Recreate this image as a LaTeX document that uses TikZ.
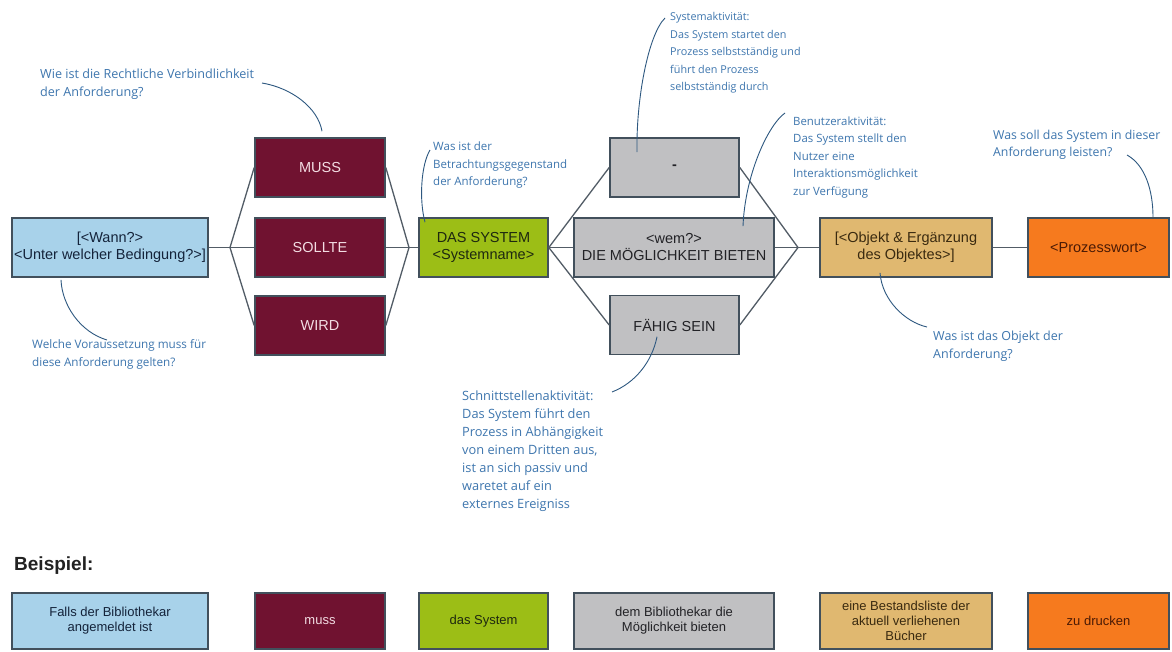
\documentclass[tikz,border=0pt]{standalone}
\usepackage{fontspec}
\setmainfont{Liberation Sans}
\newfontfamily\handfont{Open Sans}
\usetikzlibrary{calc}

\definecolor{boxline}{RGB}{66,80,92}
\definecolor{wirecol}{RGB}{82,92,102}
\definecolor{pincol}{RGB}{46,88,128}
\definecolor{notecol}{RGB}{62,118,174}
\definecolor{fillblue}{RGB}{168,210,234}
\definecolor{fillmaroon}{RGB}{112,18,48}
\definecolor{fillgreen}{RGB}{156,190,22}
\definecolor{fillgray}{RGB}{192,192,194}
\definecolor{filltan}{RGB}{224,184,112}
\definecolor{fillorange}{RGB}{246,122,30}

\begin{document}
\begin{tikzpicture}[x=1pt,y=-1pt,
  box/.style={draw=boxline, line width=1.6pt, minimum height=59pt, inner sep=0pt,
    align=center, font=\fontsize{14.5}{17}\selectfont},
  exbox/.style={box, minimum height=56pt, font=\fontsize{13}{15}\selectfont},
  cblue/.style={fill=fillblue, text={rgb,255:red,20;green,35;blue,58}},
  cmaroon/.style={fill=fillmaroon, text={rgb,255:red,243;green,221;blue,227}},
  cgreen/.style={fill=fillgreen, text={rgb,255:red,30;green,40;blue,16}},
  cgray/.style={fill=fillgray, text={rgb,255:red,34;green,34;blue,38}},
  ctan/.style={fill=filltan, text={rgb,255:red,58;green,42;blue,16}},
  corange/.style={fill=fillorange, text={rgb,255:red,74;green,26;blue,5}},
  wire/.style={draw=wirecol, line width=1.3pt},
  pin/.style={draw=pincol, line width=0.9pt},
  note/.style={font=\handfont\fontsize{#1}{17.5}\selectfont, text=notecol,
    align=left, inner sep=0pt, anchor=west}
]
\useasboundingbox[fill=white] (0,0) rectangle (1172,651);

% sentence template
\node[box,cblue,minimum width=196pt] (wann) at (110,247.5) {[<Wann?>\\<Unter welcher Bedingung?>]};
\node[box,cmaroon,minimum width=130pt] (muss) at (320,167.5) {MUSS};
\node[box,cmaroon,minimum width=130pt] (sollte) at (320,247.5) {SOLLTE};
\node[box,cmaroon,minimum width=130pt] (wird) at (320,325.5) {WIRD};
\node[box,cgreen,minimum width=129pt] (sys) at (483.5,247.5) {DAS SYSTEM\\<Systemname>};
\node[box,cgray,minimum width=129pt] (dash) at (674.5,167.5) {\bfseries -};
\node[box,cgray,minimum width=200pt] (mid) at (674,247.5) {<wem?>\\DIE MÖGLICHKEIT BIETEN};
\node[box,cgray,minimum width=129pt] (faehig) at (674.5,325) {FÄHIG SEIN};
\node[box,ctan,minimum width=172pt] (obj) at (906,247.5) {[<Objekt \& Ergänzung\\des Objektes>]};
\node[box,corange,minimum width=141pt] (proz) at (1098.5,247.5) {<Prozesswort>};

% branch points
\coordinate (f1) at (230,247.5);
\coordinate (f2) at (409,247.5);
\coordinate (f4) at (798,247.5);

\draw[wire] (wann.east) -- (f1);
\draw[wire] (f1) -- (muss.west);
\draw[wire] (f1) -- (sollte.west);
\draw[wire] (f1) -- (wird.west);
\draw[wire] (muss.east) -- (f2);
\draw[wire] (sollte.east) -- (f2);
\draw[wire] (wird.east) -- (f2);
\draw[wire] (f2) -- (sys.west);
\draw[wire] (sys.east) -- (dash.west);
\draw[wire] (sys.east) -- (mid.west);
\draw[wire] (sys.east) -- (faehig.west);
\draw[wire] (dash.east) -- (f4);
\draw[wire] (mid.east) -- (f4);
\draw[wire] (faehig.east) -- (f4);
\draw[wire] (f4) -- (obj.west);
\draw[wire] (obj.east) -- (proz.west);

% handwritten remarks
\node[note=12.6] (nMuss) at (40,84) {Wie ist die Rechtliche Verbindlichkeit\\der Anforderung?};
\node[note=11.7] (nWann) at (32,354.5) {Welche Voraussetzung muss für\\diese Anforderung gelten?};
\node[note=11.5] (nSys) at (433,165.5) {Was ist der\\Betrachtungsgegenstand\\der Anforderung?};
\node[note=10.8] (nDash) at (670,53) {Systemaktivität:\\Das System startet den\\Prozess selbstständig und\\führt den Prozess\\selbstständig durch};
\node[note=11.4] (nMid) at (793,157.5) {Benutzeraktivität:\\Das System stellt den\\Nutzer eine\\Interaktionsmöglichkeit\\zur Verfügung};
\node[note=12.8, font=\handfont\fontsize{12.8}{18}\selectfont] (nFaehig) at (462,451) {Schnittstellenaktivität:\\Das System führt den\\Prozess in Abhängigkeit\\von einem Dritten aus,\\ist an sich passiv und\\waretet auf ein\\externes Ereigniss};
\node[note=12.5] (nObj) at (933,346) {Was ist das Objekt der\\Anforderung?};
\node[note=12.3] (nProz) at (993,145) {Was soll das System in dieser\\Anforderung leisten?};

% remark pins
\coordinate (pMuss) at (262,83);
\coordinate (pWann) at (107,340);
\coordinate (pSys) at (430,150);
\coordinate (pDash) at (665,18);
\coordinate (pMid) at (785,113);
\coordinate (pFaehig) at (612,392);
\coordinate (pObj) at (927,327);
\coordinate (pProz) at (1127,155);

\draw[pin] (pMuss) .. controls (292,88) and (318,108) .. ($(muss.north)+(2,-6)$);
\draw[pin] ($(wann.south)+(-49,2)$) .. controls (62,305) and (80,332) .. (pWann);
\draw[pin] (pSys) .. controls (421,165) and (419,200) .. ($(sys.north)+(-58.5,5)$);
\draw[pin] (pDash) .. controls (648,35) and (636,100) .. ($(dash.north)+(-37.5,15)$);
\draw[pin] (pMid) .. controls (768,125) and (745,175) .. ($(mid.north)+(69,9)$);
\draw[pin] (pFaehig) .. controls (635,383) and (652,362) .. ($(faehig.north)+(-17.5,42)$);
\draw[pin] ($(obj.south)+(-26,-5)$) .. controls (882,300) and (905,322) .. (pObj);
\draw[pin] (pProz) .. controls (1145,165) and (1153,190) .. ($(proz.north)+(54.5,0)$);

% worked example
\node[anchor=west, inner sep=0pt, font=\bfseries\fontsize{19}{22}\selectfont,
  text={rgb,255:red,34;green,34;blue,34}] (beispiel) at (14,566) {Beispiel:};
\node[exbox,cblue,minimum width=196pt] (e1) at (110,621) {Falls der Bibliothekar\\angemeldet ist};
\node[exbox,cmaroon,minimum width=130pt] (e2) at (320,621) {muss};
\node[exbox,cgreen,minimum width=129pt] (e3) at (483.5,621) {das System};
\node[exbox,cgray,minimum width=200pt] (e4) at (674,621) {dem Bibliothekar die\\Möglichkeit bieten};
\node[exbox,ctan,minimum width=172pt] (e5) at (906,621) {eine Bestandsliste der\\aktuell verliehenen\\Bücher};
\node[exbox,corange,minimum width=141pt] (e6) at (1098.5,621) {zu drucken};
\end{tikzpicture}
\end{document}
